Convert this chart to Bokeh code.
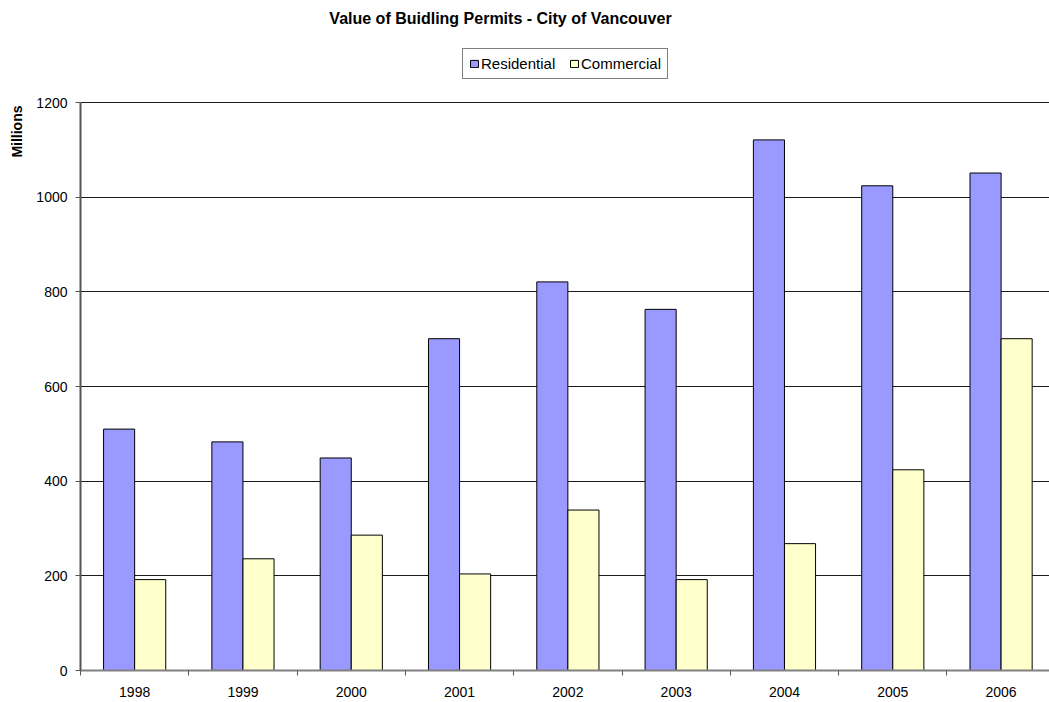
from bokeh.plotting import figure
from bokeh.models import (Range1d, FixedTicker, Legend, LegendItem, Label, Title, ColumnDataSource)
from bokeh.embed import file_html
from bokeh.resources import INLINE

years = ["1998", "1999", "2000", "2001", "2002", "2003", "2004", "2005", "2006"]
residential = [510, 483, 449, 701, 821, 763, 1121, 1024, 1051]
commercial = [192, 236, 286, 204, 339, 192, 268, 424, 701]
y_ticks = [0, 200, 400, 600, 800, 1000, 1200]

FONT = "Liberation Sans"

centers = [i + 0.5 for i in range(len(years))]
bar_w = 0.287
src = ColumnDataSource(dict(
    x_res=[c - bar_w / 2 for c in centers],
    x_com=[c + bar_w / 2 for c in centers],
    res=residential, com=commercial))

# frame: x 80..1049, y 0..670 ; 1200 units = 568 px
p = figure(width=1049, height=702, output_backend="svg", toolbar_location=None,
           x_range=Range1d(0, 8.947), y_range=Range1d(0, 1415.5),
           min_border_left=80, min_border_right=0, min_border_top=0, min_border_bottom=32,
           title=None)
p.outline_line_color = None
p.background_fill_color = "white"
p.border_fill_color = "white"

r1 = p.vbar(x="x_res", top="res", width=bar_w, source=src,
            fill_color="#9999FF", line_color="black", line_width=1)
r2 = p.vbar(x="x_com", top="com", width=bar_w, source=src,
            fill_color="#FFFFCC", line_color="black", line_width=1)

# x axis
xa = p.xaxis[0]
xa.ticker = FixedTicker(ticks=centers, minor_ticks=list(range(len(years) + 1)))
xa.major_label_overrides = {c: y for c, y in zip(centers, years)}
xa.major_tick_line_color = None
xa.major_tick_out = 0
xa.major_tick_in = 0
xa.minor_tick_out = 5
xa.minor_tick_in = 0
xa.minor_tick_line_color = "#555555"
xa.axis_line_color = "#808080"
xa.axis_line_width = 2
xa.major_label_text_font = FONT
xa.major_label_text_font_size = "14px"
xa.major_label_text_color = "black"
xa.major_label_standoff = 11

# y axis
ya = p.yaxis[0]
ya.ticker = FixedTicker(ticks=y_ticks)
ya.bounds = (0, 1200)
ya.minor_tick_line_color = None
ya.major_tick_out = 5
ya.major_tick_in = 0
ya.major_tick_line_color = "#555555"
ya.axis_line_color = "#555555"
ya.axis_line_width = 2
ya.major_label_text_font = FONT
ya.major_label_text_font_size = "14px"
ya.major_label_text_color = "black"
ya.major_label_standoff = 8

p.xgrid.grid_line_color = None
p.ygrid.ticker = FixedTicker(ticks=y_ticks)
p.ygrid.grid_line_color = "#1a1a1a"
p.ygrid.grid_line_width = 1

legend = Legend(items=[LegendItem(label="Residential", renderers=[r1]),
                       LegendItem(label="Commercial", renderers=[r2])],
                orientation="horizontal", location=(382, 591))
legend.margin = 0
legend.padding = 6
legend.spacing = 8
legend.glyph_width = 10
legend.glyph_height = 9
legend.label_standoff = 2
legend.label_width = 80
legend.label_height = 14
legend.label_text_font = FONT
legend.label_text_font_size = "15px"
legend.label_text_color = "black"
legend.border_line_color = "black"
legend.border_line_width = 1
legend.background_fill_color = "white"
legend.background_fill_alpha = 1
p.add_layout(legend, "center")

title = Label(x=420, y=652, x_units="screen", y_units="screen",
              text="Value of Buidling Permits - City of Vancouver",
              text_font=FONT, text_font_size="16px", text_font_style="bold",
              text_align="center", text_baseline="alphabetic", text_color="black")
p.add_layout(title)

ylab = Title(text="Millions", align="right", offset=105, vertical_align="top",
             standoff=13, text_font=FONT, text_font_size="14px",
             text_font_style="bold", text_color="black")
p.add_layout(ylab, "left")

open("out.html", "w").write(file_html(p, INLINE))
